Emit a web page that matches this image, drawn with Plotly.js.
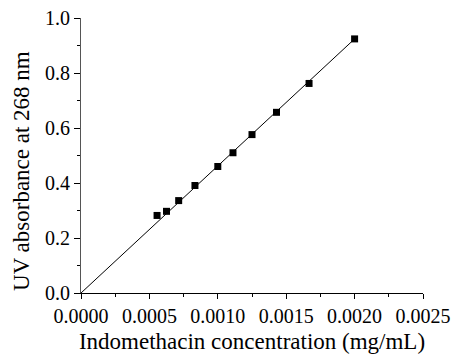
<!DOCTYPE html>
<html>
<head>
<meta charset="utf-8">
<script src="https://cdn.plot.ly/plotly-3.0.1.min.js"></script>
<style>html,body{margin:0;padding:0;background:#fff;}#chart{width:451px;height:357px;}</style>
</head>
<body>
<div id="chart"></div>
<script>
// Measured points
const concentration = [0.000556, 0.000625, 0.000714, 0.000833, 0.001, 0.001111, 0.00125, 0.001429, 0.001667, 0.002];
const absorbance = [0.282, 0.297, 0.336, 0.391, 0.460, 0.510, 0.576, 0.657, 0.762, 0.924];
// Linear fit line (through origin)
const fitX = [0, 0.002];
const fitY = [0, 0.924];
const xTickVals = [0, 0.0005, 0.001, 0.0015, 0.002, 0.0025];
const xTickText = ['0.0000', '0.0005', '0.0010', '0.0015', '0.0020', '0.0025'];
const yTickVals = [0, 0.2, 0.4, 0.6, 0.8, 1.0];
const yTickText = ['0.0', '0.2', '0.4', '0.6', '0.8', '1.0'];

const font = 'Liberation Serif';

const traces = [
  {x: fitX, y: fitY, mode: 'lines', line: {color: '#000', width: 1}, hoverinfo: 'skip', showlegend: false, cliponaxis: false},
  {x: concentration, y: absorbance, mode: 'markers', marker: {symbol: 'square', size: 7, color: '#000'}, showlegend: false, cliponaxis: false}
];

const layout = {
  width: 451, height: 357,
  margin: {l: 80.7, r: 28.3, t: 18.3, b: 63.7},
  paper_bgcolor: '#fff', plot_bgcolor: '#fff',
  font: {family: font, color: '#000', size: 20},
  showlegend: false,
  xaxis: {
    range: [0, 0.0025], showgrid: false, zeroline: false,
    showline: true, linecolor: '#000', linewidth: 1,
    ticks: 'outside', ticklen: 5, tickwidth: 1, tickcolor: '#000',
    tickvals: xTickVals, ticktext: xTickText, ticklabeloverflow: 'allow',
    tickfont: {family: font, size: 20, color: '#000'},
    minor: {dtick: 0.00025, ticks: 'outside', ticklen: 3, tickwidth: 1, tickcolor: '#000', showgrid: false},
    title: {text: 'Indomethacin concentration (mg/mL)', font: {family: font, size: 23, color: '#000'}, standoff: 6}
  },
  yaxis: {
    range: [0, 1.0], showgrid: false, zeroline: false,
    showline: true, linecolor: '#555', linewidth: 1,
    ticks: 'outside', ticklen: 6, tickwidth: 1, tickcolor: '#000',
    tickvals: yTickVals, ticktext: yTickText, ticklabeloverflow: 'allow',
    tickfont: {family: font, size: 20, color: '#000'},
    minor: {dtick: 0.1, ticks: 'outside', ticklen: 3, tickwidth: 1, tickcolor: '#000', showgrid: false}
  },
  annotations: [{
    text: 'UV absorbance at 268 nm', textangle: -90,
    xref: 'paper', yref: 'paper', x: -0.176, y: 0.443,
    xanchor: 'center', yanchor: 'middle', showarrow: false,
    font: {family: font, size: 23, color: '#000'}
  }]
};

Plotly.newPlot('chart', traces, layout, {displayModeBar: false, staticPlot: true});
</script>
</body>
</html>
